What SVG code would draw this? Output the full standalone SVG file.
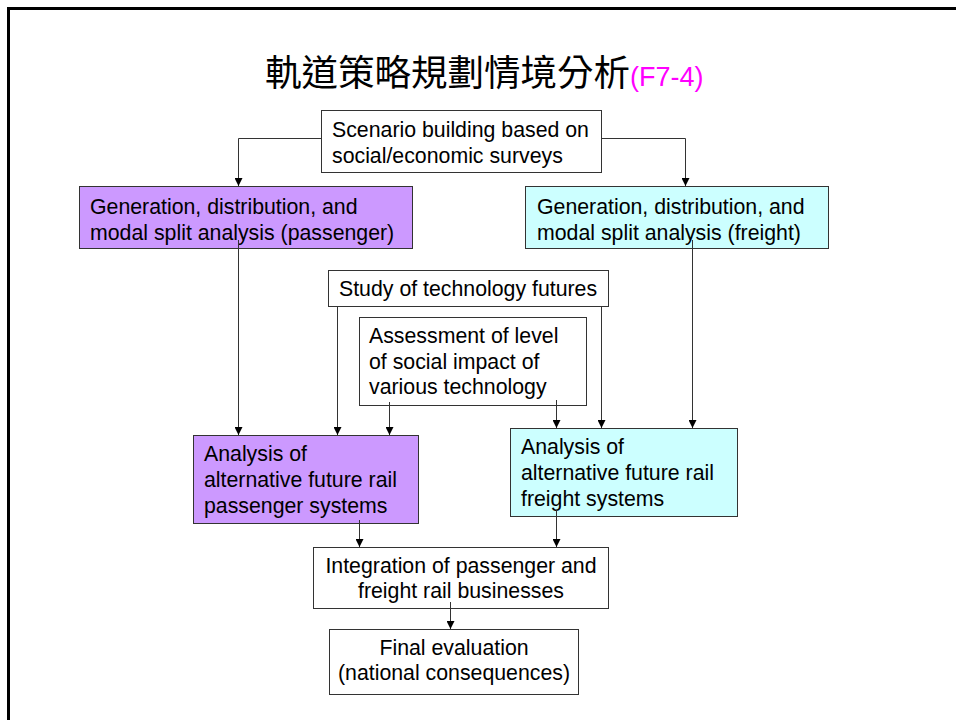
<svg xmlns="http://www.w3.org/2000/svg" width="956" height="720" viewBox="0 0 956 720">
<style>
.box{stroke:#333;stroke-width:1}
.w{fill:#fff}
.p{fill:#CC99FF}
.c{fill:#CCFFFF}
.t{font-family:"Liberation Sans",Arial,sans-serif;font-size:21.3px;fill:#000}
.m{text-anchor:middle}
.ln{fill:none;stroke:#333;stroke-width:1;marker-end:url(#ah)}
</style>
<defs>
<marker id="ah" markerUnits="userSpaceOnUse" markerWidth="8" markerHeight="8" refX="8" refY="4" orient="auto">
<path d="M0,0 L8,4 L0,8 z" fill="#000"/>
</marker>
</defs>
<rect x="0" y="0" width="956" height="720" fill="#fff"/>
<rect x="8.5" y="8.5" width="1000" height="800" fill="none" stroke="#000" stroke-width="3"/>
<g id="title">
<text x="265" y="86" font-family="'Noto Sans CJK TC','Noto Sans CJK SC',sans-serif" font-size="36.5px" fill="#000">軌道策略規劃情境分析<tspan font-family="'Liberation Sans',Arial,sans-serif" font-size="27px" fill="#FF00FF">(F7-4)</tspan></text>
</g>
<g id="scenario">
<rect class="box w" x="321.5" y="110.5" width="280" height="62"/>
<text class="t" x="332" y="136.5">Scenario building based on</text>
<text class="t" x="332" y="163">social/economic surveys</text>
</g>
<g id="gen-passenger">
<rect class="box p" x="79.5" y="186.5" width="333" height="62"/>
<text class="t" x="90" y="214">Generation, distribution, and</text>
<text class="t" x="90" y="240">modal split analysis (passenger)</text>
</g>
<g id="gen-freight">
<rect class="box c" x="525.5" y="186.5" width="303" height="62"/>
<text class="t" x="537" y="214">Generation, distribution, and</text>
<text class="t" x="537" y="240">modal split analysis (freight)</text>
</g>
<g id="tech-futures">
<rect class="box w" x="328.5" y="270.5" width="280" height="36"/>
<text class="t" x="339" y="296">Study of technology futures</text>
</g>
<g id="social-impact">
<rect class="box w" x="359.5" y="317.5" width="227" height="88"/>
<text class="t" x="369" y="343">Assessment of level</text>
<text class="t" x="369" y="368.5">of social impact of</text>
<text class="t" x="369" y="394">various technology</text>
</g>
<g id="alt-passenger">
<rect class="box p" x="193.5" y="435.5" width="225" height="88"/>
<text class="t" x="204" y="461">Analysis of</text>
<text class="t" x="204" y="487">alternative future rail</text>
<text class="t" x="204" y="512.5">passenger systems</text>
</g>
<g id="alt-freight">
<rect class="box c" x="510.5" y="428.5" width="227" height="88"/>
<text class="t" x="521" y="454">Analysis of</text>
<text class="t" x="521" y="480">alternative future rail</text>
<text class="t" x="521" y="505.5">freight systems</text>
</g>
<g id="integration">
<rect class="box w" x="313.5" y="547.5" width="295" height="61"/>
<text class="t m" x="461" y="573">Integration of passenger and</text>
<text class="t m" x="461" y="598">freight rail businesses</text>
</g>
<g id="final">
<rect class="box w" x="329.5" y="629.5" width="249" height="65"/>
<text class="t m" x="454" y="655">Final evaluation</text>
<text class="t m" x="454" y="680">(national consequences)</text>
</g>
<g id="connectors">
<path class="ln" d="M321.5,138.5 H238.5 V186"/>
<path class="ln" d="M601.5,138.5 H685.5 V186"/>
<path class="ln" d="M238.5,240 V435"/>
<path class="ln" d="M692.5,240 V428"/>
<path class="ln" d="M337.5,306 V435"/>
<path class="ln" d="M601.5,306 V428"/>
<path class="ln" d="M389.5,402 V435"/>
<path class="ln" d="M556.5,400 V428"/>
<path class="ln" d="M359.5,520 V547"/>
<path class="ln" d="M556.5,510 V547"/>
<path class="ln" d="M450.5,602 V629"/>
</g>
</svg>
